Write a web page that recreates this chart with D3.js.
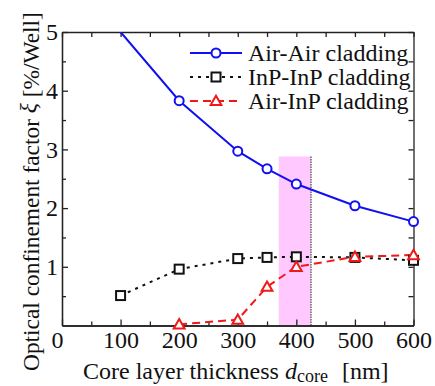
<!DOCTYPE html>
<html><head><meta charset="utf-8">
<script src="https://cdn.jsdelivr.net/npm/d3@7"></script>
<style>body{margin:0;background:#fff}svg{display:block}</style>
</head><body><svg id="c" width="435" height="386"></svg>
<script>
const thickness = [100, 200, 300, 350, 400, 500, 600];
const airAir = [5.0, 3.83, 2.97, 2.67, 2.41, 2.04, 1.77];
const inpInp = [0.51, 0.96, 1.14, 1.16, 1.17, 1.16, 1.11];
const thicknessAirInp = [200, 300, 350, 400, 500, 600];
const airInp = [0.02, 0.10, 0.66, 1.00, 1.17, 1.20];
const band = {x0: 370, x1: 425, top: 2.88};
const xTicks = [0, 100, 200, 300, 400, 500, 600];
const yTicks = [1, 2, 3, 4, 5];
const seriesNames = ["Air-Air cladding", "InP-InP cladding", "Air-InP cladding"];

const FONT = "'Liberation Serif', Tinos, 'Times New Roman', serif";
const svg = d3.select("#c");
const L = 62, R = 413.5, T = 32, B = 325.5;
const x = d3.scaleLinear().domain([0, 600]).range([L, R]);
const y = d3.scaleLinear().domain([0, 5]).range([B, T]);

svg.append("defs").append("clipPath").attr("id", "clip")
  .append("rect").attr("x", L).attr("y", T).attr("width", R - L).attr("height", B - T);

// band
svg.append("rect").attr("x", x(band.x0)).attr("y", y(band.top))
  .attr("width", x(band.x1) - x(band.x0)).attr("height", y(0) - y(band.top))
  .attr("fill", "#ffc8ff");
svg.append("line").attr("x1", x(band.x1)).attr("x2", x(band.x1))
  .attr("y1", y(band.top)).attr("y2", y(0))
  .attr("stroke", "#666").attr("stroke-width", 1.5).attr("stroke-dasharray", "1.5,1");

// axes
function styleAxis(g) {
  g.attr("font-family", FONT);
  g.selectAll("path.domain").attr("stroke", "#222").attr("stroke-width", 1.3);
  g.selectAll(".tick line").attr("stroke", "#222").attr("stroke-width", 1.3);
  g.selectAll("text").attr("font-size", 24).attr("fill", "#111").attr("font-family", FONT);
}
const minorX = d3.range(50, 600, 100);
const minorY = d3.range(0.5, 5, 1);
svg.append("g").attr("transform", `translate(0,${B})`)
  .call(d3.axisBottom(x).tickValues(xTicks).tickSizeInner(-6).tickSizeOuter(0).tickPadding(5).tickFormat(d3.format("d")))
  .call(styleAxis)
  .call(g => g.selectAll(".tick text").filter(d => d === 0).attr("dx", -5));
svg.append("g").attr("transform", `translate(0,${B})`)
  .call(d3.axisBottom(x).tickValues(minorX).tickSizeInner(-4).tickSizeOuter(0).tickFormat(""))
  .call(styleAxis);
svg.append("g").attr("transform", `translate(0,${T})`)
  .call(d3.axisTop(x).tickValues(xTicks.concat(minorX)).tickSizeInner(-5).tickSizeOuter(0).tickFormat(""))
  .call(styleAxis);
svg.append("g").attr("transform", `translate(${L},0)`)
  .call(d3.axisLeft(y).tickValues(yTicks).tickSizeInner(-6).tickSizeOuter(0).tickPadding(4).tickFormat(d3.format("d")))
  .call(styleAxis);
svg.append("g").attr("transform", `translate(${L},0)`)
  .call(d3.axisLeft(y).tickValues(minorY).tickSizeInner(-4).tickSizeOuter(0).tickFormat(""))
  .call(styleAxis);
svg.append("g").attr("transform", `translate(${R},0)`)
  .call(d3.axisRight(y).tickValues(yTicks.concat(minorY)).tickSizeInner(-5).tickSizeOuter(0).tickFormat(""))
  .call(styleAxis);

// series
const series = [
  {name: seriesNames[0], xs: thickness, ys: airAir, color: "#1010f0", dash: null, mark: "circle"},
  {name: seriesNames[1], xs: thickness, ys: inpInp, color: "#111", dash: "3,5", mark: "square"},
  {name: seriesNames[2], xs: thicknessAirInp, ys: airInp, color: "#f01818", dash: "8,5", mark: "triangle"}
];
const line = d3.line().x(d => x(d[0])).y(d => y(d[1]));
function drawMarker(g, type, cx, cy, color) {
  if (type === "circle") {
    g.append("circle").attr("cx", cx).attr("cy", cy).attr("r", 4.5)
      .attr("fill", "#fff").attr("stroke", color).attr("stroke-width", 2);
  } else if (type === "square") {
    g.append("rect").attr("x", cx - 4.5).attr("y", cy - 4.5).attr("width", 9).attr("height", 9)
      .attr("fill", "#fff").attr("stroke", color).attr("stroke-width", 2);
  } else {
    g.append("path").attr("d", d3.symbol(d3.symbolTriangle, 50)()).attr("transform", `translate(${cx},${cy + 1})`)
      .attr("fill", "#fff").attr("stroke", color).attr("stroke-width", 2);
  }
}
const plot = svg.append("g").attr("clip-path", "url(#clip)");
series.forEach(s => {
  const pts = s.xs.map((v, i) => [v, s.ys[i]]);
  plot.append("path").attr("d", line(pts)).attr("fill", "none")
    .attr("stroke", s.color).attr("stroke-width", 2)
    .attr("stroke-dasharray", s.dash);
});
const marks = svg.append("g");
series.forEach(s => {
  s.xs.forEach((v, i) => {
    if (s.ys[i] < 5) drawMarker(marks, s.mark, x(v), y(s.ys[i]), s.color);
  });
});

// legend
const legY = [53, 77, 101];
series.forEach((s, i) => {
  const g = svg.append("g");
  g.append("line").attr("x1", 190).attr("x2", 242).attr("y1", legY[i]).attr("y2", legY[i])
    .attr("stroke", s.color).attr("stroke-width", 2).attr("stroke-dasharray", s.dash);
  drawMarker(g, s.mark, 216, legY[i], s.color);
  g.append("text").attr("x", 248).attr("y", legY[i] + 8).attr("font-size", 24)
    .attr("font-family", FONT).attr("fill", "#111").text(s.name);
});

// axis titles
const xt = svg.append("text").attr("x", 83).attr("y", 379).attr("font-size", 24)
  .attr("font-family", FONT).attr("fill", "#111");
xt.append("tspan").text("Core layer thickness ");
xt.append("tspan").attr("font-style", "italic").text("d");
xt.append("tspan").attr("font-size", 18).attr("dy", 3).text("core");
xt.append("tspan").attr("dy", -3).attr("dx", 14).text("[nm]");

const yt = svg.append("text").attr("transform", "translate(39,371) rotate(-90)")
  .attr("font-size", 23.4).attr("font-family", FONT).attr("fill", "#111");
yt.append("tspan").text("Optical confinement factor ");
yt.append("tspan").attr("font-style", "italic").attr("dy", -3).text("ξ");
yt.append("tspan").attr("dy", 3).text(" [%/Well]");
</script></body></html>
